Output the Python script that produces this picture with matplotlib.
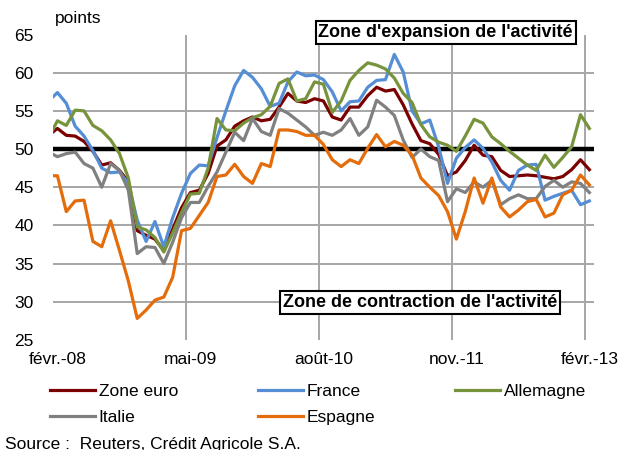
import numpy as np
import matplotlib
matplotlib.use("Agg")
import matplotlib.pyplot as plt
from matplotlib.lines import Line2D

plt.rcParams['font.family'] = ['Liberation Sans', 'DejaVu Sans']

# indices mensuels, janv.-08 a fevr.-13 (le 1er point est coupe par l'axe)
zone_euro = [51.8, 52.7, 51.8, 51.7, 51.0, 49.7, 47.9, 48.2, 47.2, 45.7,
             39.3, 38.7, 38.2, 36.7, 39.5, 42.3, 44.3, 44.6, 46.8, 50.4,
             51.2, 53.0, 53.7, 54.2, 53.7, 53.9, 55.5, 57.3, 56.3, 56.1,
             56.6, 56.3, 54.2, 53.8, 55.5, 55.5, 57.0, 58.1, 57.6, 57.8,
             55.8, 53.3, 51.1, 50.7, 49.3, 46.5, 47.0, 48.5, 50.5, 49.2,
             49.0, 47.2, 46.4, 46.5, 46.6, 46.5, 46.3, 46.1, 46.4, 47.3,
             48.6, 47.3]
france = [56.3, 57.4, 56.0, 53.0, 51.7, 49.8, 47.5, 46.9, 47.0, 45.5,
          40.7, 37.9, 40.5, 37.2, 41.0, 44.2, 46.8, 47.9, 47.8, 51.5,
          55.0, 58.3, 60.3, 59.4, 57.9, 55.6, 56.0, 58.8, 60.1, 59.6,
          59.7, 59.1, 57.5, 55.0, 56.2, 56.3, 58.1, 59.0, 59.1, 62.4,
          60.1, 55.0, 53.3, 53.8, 50.3, 45.5, 48.8, 50.2, 51.2, 50.1,
          48.3, 45.9, 44.6, 47.2, 47.9, 48.0, 43.3, 43.8, 44.2, 44.6,
          42.7, 43.2]
allemagne = [51.5, 53.7, 53.1, 55.1, 55.0, 53.1, 52.4, 51.2, 49.4, 46.2,
             39.8, 39.4, 38.4, 36.5, 39.0, 41.7, 44.1, 44.2, 47.5, 54.0,
             52.5, 52.4, 53.4, 54.1, 54.5, 55.6, 58.6, 59.2, 56.3, 56.6,
             58.8, 58.5, 54.8, 56.3, 59.0, 60.3, 61.3, 61.0, 60.5, 59.3,
             57.3, 56.1, 53.2, 51.6, 50.9, 50.5, 49.7, 51.7, 53.9, 53.4,
             51.6, 50.7, 49.7, 48.8, 47.9, 47.2, 49.2, 47.6, 48.9, 50.3,
             54.5, 52.7]
italie = [49.6, 49.0, 49.4, 49.6, 48.1, 47.5, 45.0, 48.1, 47.2, 44.6,
          36.3, 37.2, 37.1, 35.0, 37.8, 41.0, 43.0, 43.0, 45.1, 47.0,
          49.6, 52.2, 51.1, 54.0, 52.3, 51.8, 55.3, 54.7, 53.8, 52.9,
          51.8, 52.2, 51.8, 52.5, 54.0, 51.8, 52.9, 56.4, 55.5, 54.4,
          51.2, 48.9, 50.0, 49.0, 48.5, 43.1, 44.8, 44.3, 45.7, 45.0,
          45.9, 42.7, 43.5, 44.0, 43.5, 43.5, 45.1, 45.9, 45.0, 45.7,
          45.5, 44.3]
espagne = [46.5, 46.5, 41.8, 43.2, 43.3, 37.9, 37.2, 40.6, 36.7, 32.7,
           27.8, 28.9, 30.2, 30.6, 33.2, 39.3, 39.6, 41.3, 43.0, 46.4,
           46.6, 48.0, 46.4, 45.5, 48.1, 47.7, 52.5, 52.5, 52.3, 51.8,
           51.8, 50.6, 48.6, 47.7, 48.6, 48.1, 50.1, 51.9, 50.3, 51.0,
           50.5, 49.2, 46.2, 45.0, 43.9, 41.8, 38.2, 41.8, 46.2, 42.9,
           46.2, 42.4, 41.1, 42.0, 43.1, 43.4, 41.1, 41.6, 44.0, 44.6,
           46.6, 45.3]

series = ["Zone euro", "France", "Allemagne", "Italie", "Espagne"]
colors = ["#7B0000", "#558ED5", "#77933C", "#808080", "#E46C0A"]
xlabels = ["févr.-08", "mai-09", "août-10", "nov.-11", "févr.-13"]
xlabel_pos = [1, 16, 31, 46, 61]
yticks = [25, 30, 35, 40, 45, 50, 55, 60, 65]

x = np.arange(len(zone_euro))
fs = 12.5

fig = plt.figure(figsize=(6.22, 4.5), dpi=100)
ax = fig.add_axes([53/622, 1-339.8/450, 540.8/622, 305.2/450])

for v in [30, 35, 40, 45, 55, 60]:
    ax.axhline(v, color="#A6A6A6", lw=1.4, zorder=1)
for p in [15.5, 30.5, 45.5, 60.5]:
    ax.axvline(p, color="#A6A6A6", lw=1.4, zorder=1)
ax.axhline(50, color="black", lw=3.2, zorder=2)

for vals, name, c in zip([zone_euro, france, allemagne, italie, espagne], series, colors):
    ax.plot(x, vals, color=c, lw=2.3, label=name, zorder=3)

ax.set_xlim(0.5, 61.5)
ax.set_ylim(25, 65)
ax.set_yticks(yticks)
ax.set_xticks(xlabel_pos)
ax.set_xticklabels(xlabels)
ax.tick_params(axis="both", length=0, labelsize=fs)
ax.tick_params(axis="y", pad=14)
ax.tick_params(axis="x", pad=9)
for s in ax.spines.values():
    s.set_visible(False)

box = dict(boxstyle="square,pad=0.15", fc="white", ec="black", lw=1.5)
ax.text(0.726, 1.007, "Zone d'expansion de l'activité", transform=ax.transAxes,
        ha="center", va="center", fontsize=13, fontweight="bold", bbox=box, zorder=5)
ax.text(0.679, 0.122, "Zone de contraction de l'activité", transform=ax.transAxes,
        ha="center", va="center", fontsize=13, fontweight="bold", bbox=box, zorder=5)

fig.text(55/622, 1-19/450, "points", fontsize=fs, va="center")

handles = [Line2D([], [], color=c, lw=2.3) for c in colors]
order = [0, 3, 1, 4, 2]
fig.legend([handles[i] for i in order], [series[i] for i in order], ncol=3,
           loc="upper left", bbox_to_anchor=(50/622, 1-384/450), frameon=False,
           fontsize=fs, handlelength=2.6, handletextpad=0.2, columnspacing=4.6,
           borderpad=0, borderaxespad=0, labelspacing=0.62)

fig.text(5/622, 1-444/450, "Source :  Reuters, Crédit Agricole S.A.", fontsize=fs, va="center")

fig.savefig("out.png", dpi=100)
